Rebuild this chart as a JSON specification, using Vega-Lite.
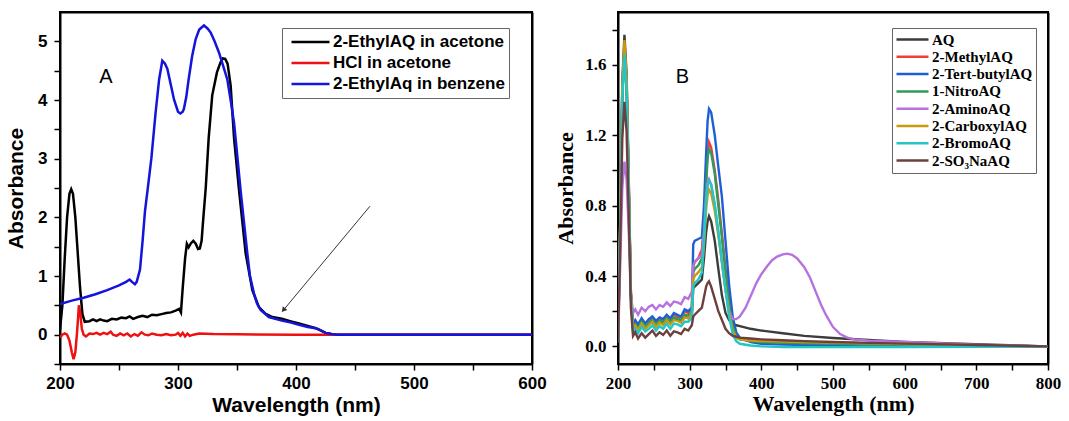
{
"$schema": "https://vega.github.io/schema/vega-lite/v6.json",
"background": "white",
"padding": {"left": 4, "top": 11, "right": 0, "bottom": 0},
"bounds": "flush",
"spacing": 86,
"config": {"view": {"stroke": "black", "strokeWidth": 2}, "axis": {"grid": false}},
"resolve": {"scale": {"color": "independent", "x": "independent", "y": "independent"}, "legend": {"color": "independent"}},
"datasets": {
"a": [
{"s":"2-EthylAQ in acetone","x":200,"y":0.08},{"s":"2-EthylAQ in acetone","x":202,"y":0.5},{"s":"2-EthylAQ in acetone","x":204,"y":1.3},{"s":"2-EthylAQ in acetone","x":206,"y":2.0},{"s":"2-EthylAQ in acetone","x":208,"y":2.4},{"s":"2-EthylAQ in acetone","x":209.5,"y":2.48},{"s":"2-EthylAQ in acetone","x":211,"y":2.4},{"s":"2-EthylAQ in acetone","x":213,"y":2.0},{"s":"2-EthylAQ in acetone","x":215,"y":1.4},{"s":"2-EthylAQ in acetone","x":217,"y":0.8},{"s":"2-EthylAQ in acetone","x":219,"y":0.35},{"s":"2-EthylAQ in acetone","x":221,"y":0.22},{"s":"2-EthylAQ in acetone","x":225,"y":0.23},{"s":"2-EthylAQ in acetone","x":228,"y":0.26},{"s":"2-EthylAQ in acetone","x":231,"y":0.23},{"s":"2-EthylAQ in acetone","x":234,"y":0.26},{"s":"2-EthylAQ in acetone","x":237,"y":0.24},{"s":"2-EthylAQ in acetone","x":240,"y":0.23},{"s":"2-EthylAQ in acetone","x":244,"y":0.27},{"s":"2-EthylAQ in acetone","x":248,"y":0.26},{"s":"2-EthylAQ in acetone","x":252,"y":0.29},{"s":"2-EthylAQ in acetone","x":256,"y":0.28},{"s":"2-EthylAQ in acetone","x":259,"y":0.31},{"s":"2-EthylAQ in acetone","x":262,"y":0.27},{"s":"2-EthylAQ in acetone","x":266,"y":0.3},{"s":"2-EthylAQ in acetone","x":270,"y":0.32},{"s":"2-EthylAQ in acetone","x":274,"y":0.3},{"s":"2-EthylAQ in acetone","x":278,"y":0.34},{"s":"2-EthylAQ in acetone","x":282,"y":0.33},{"s":"2-EthylAQ in acetone","x":286,"y":0.35},{"s":"2-EthylAQ in acetone","x":290,"y":0.37},{"s":"2-EthylAQ in acetone","x":294,"y":0.38},{"s":"2-EthylAQ in acetone","x":298,"y":0.41},{"s":"2-EthylAQ in acetone","x":301,"y":0.44},{"s":"2-EthylAQ in acetone","x":302.5,"y":0.38},{"s":"2-EthylAQ in acetone","x":304,"y":0.8},{"s":"2-EthylAQ in acetone","x":306,"y":1.3},{"s":"2-EthylAQ in acetone","x":307.5,"y":1.55},{"s":"2-EthylAQ in acetone","x":309,"y":1.49},{"s":"2-EthylAQ in acetone","x":311,"y":1.56},{"s":"2-EthylAQ in acetone","x":313,"y":1.6},{"s":"2-EthylAQ in acetone","x":315,"y":1.55},{"s":"2-EthylAQ in acetone","x":317,"y":1.46},{"s":"2-EthylAQ in acetone","x":318.5,"y":1.47},{"s":"2-EthylAQ in acetone","x":320,"y":1.6},{"s":"2-EthylAQ in acetone","x":321.5,"y":2.0},{"s":"2-EthylAQ in acetone","x":323.5,"y":2.5},{"s":"2-EthylAQ in acetone","x":326,"y":3.35},{"s":"2-EthylAQ in acetone","x":329,"y":4.08},{"s":"2-EthylAQ in acetone","x":333,"y":4.47},{"s":"2-EthylAQ in acetone","x":336,"y":4.64},{"s":"2-EthylAQ in acetone","x":338,"y":4.71},{"s":"2-EthylAQ in acetone","x":340,"y":4.7},{"s":"2-EthylAQ in acetone","x":342,"y":4.62},{"s":"2-EthylAQ in acetone","x":344.6,"y":4.25},{"s":"2-EthylAQ in acetone","x":347.5,"y":3.35},{"s":"2-EthylAQ in acetone","x":351.7,"y":2.47},{"s":"2-EthylAQ in acetone","x":357.3,"y":1.39},{"s":"2-EthylAQ in acetone","x":363,"y":0.76},{"s":"2-EthylAQ in acetone","x":368.6,"y":0.47},{"s":"2-EthylAQ in acetone","x":374,"y":0.36},{"s":"2-EthylAQ in acetone","x":380,"y":0.3},{"s":"2-EthylAQ in acetone","x":388,"y":0.27},{"s":"2-EthylAQ in acetone","x":395,"y":0.23},{"s":"2-EthylAQ in acetone","x":402.5,"y":0.19},{"s":"2-EthylAQ in acetone","x":410,"y":0.15},{"s":"2-EthylAQ in acetone","x":416.7,"y":0.11},{"s":"2-EthylAQ in acetone","x":420,"y":0.08},{"s":"2-EthylAQ in acetone","x":425,"y":0.03},{"s":"2-EthylAQ in acetone","x":430,"y":0.01},{"s":"2-EthylAQ in acetone","x":435,"y":0},{"s":"2-EthylAQ in acetone","x":500,"y":0},{"s":"2-EthylAQ in acetone","x":600,"y":0},
{"s":"HCl in acetone","x":200,"y":-0.05},{"s":"HCl in acetone","x":202,"y":0.0},{"s":"HCl in acetone","x":204,"y":0.02},{"s":"HCl in acetone","x":206,"y":0.0},{"s":"HCl in acetone","x":208,"y":-0.1},{"s":"HCl in acetone","x":210,"y":-0.3},{"s":"HCl in acetone","x":211.5,"y":-0.42},{"s":"HCl in acetone","x":213,"y":-0.3},{"s":"HCl in acetone","x":214.5,"y":0.05},{"s":"HCl in acetone","x":216,"y":0.5},{"s":"HCl in acetone","x":217,"y":0.4},{"s":"HCl in acetone","x":218.5,"y":0.1},{"s":"HCl in acetone","x":220,"y":0.0},{"s":"HCl in acetone","x":222,"y":-0.03},{"s":"HCl in acetone","x":225,"y":0.02},{"s":"HCl in acetone","x":228,"y":0.01},{"s":"HCl in acetone","x":231,"y":0.03},{"s":"HCl in acetone","x":234,"y":0.0},{"s":"HCl in acetone","x":237,"y":0.03},{"s":"HCl in acetone","x":240,"y":0.01},{"s":"HCl in acetone","x":243,"y":0.05},{"s":"HCl in acetone","x":245,"y":0.0},{"s":"HCl in acetone","x":248,"y":-0.02},{"s":"HCl in acetone","x":251,"y":0.02},{"s":"HCl in acetone","x":254,"y":-0.01},{"s":"HCl in acetone","x":257,"y":0.02},{"s":"HCl in acetone","x":260,"y":-0.03},{"s":"HCl in acetone","x":263,"y":0.01},{"s":"HCl in acetone","x":266,"y":-0.02},{"s":"HCl in acetone","x":269,"y":0.04},{"s":"HCl in acetone","x":272,"y":0.0},{"s":"HCl in acetone","x":275,"y":-0.01},{"s":"HCl in acetone","x":278,"y":0.02},{"s":"HCl in acetone","x":282,"y":0.0},{"s":"HCl in acetone","x":286,"y":-0.01},{"s":"HCl in acetone","x":290,"y":0.01},{"s":"HCl in acetone","x":294,"y":-0.01},{"s":"HCl in acetone","x":298,"y":0.0},{"s":"HCl in acetone","x":300,"y":0.03},{"s":"HCl in acetone","x":302,"y":-0.02},{"s":"HCl in acetone","x":304,"y":0.03},{"s":"HCl in acetone","x":306,"y":-0.03},{"s":"HCl in acetone","x":308,"y":0.02},{"s":"HCl in acetone","x":310,"y":-0.02},{"s":"HCl in acetone","x":313,"y":0.0},{"s":"HCl in acetone","x":318,"y":0.02},{"s":"HCl in acetone","x":330,"y":0.01},{"s":"HCl in acetone","x":350,"y":0.005},{"s":"HCl in acetone","x":400,"y":0.0},{"s":"HCl in acetone","x":600,"y":0.0},
{"s":"2-EthylAq in benzene","x":200,"y":0.52},{"s":"2-EthylAq in benzene","x":210,"y":0.58},{"s":"2-EthylAq in benzene","x":220,"y":0.63},{"s":"2-EthylAq in benzene","x":230,"y":0.69},{"s":"2-EthylAq in benzene","x":240,"y":0.76},{"s":"2-EthylAq in benzene","x":250,"y":0.84},{"s":"2-EthylAq in benzene","x":256,"y":0.9},{"s":"2-EthylAq in benzene","x":259,"y":0.94},{"s":"2-EthylAq in benzene","x":261,"y":0.9},{"s":"2-EthylAq in benzene","x":263.5,"y":0.86},{"s":"2-EthylAq in benzene","x":265,"y":0.9},{"s":"2-EthylAq in benzene","x":267.8,"y":1.11},{"s":"2-EthylAq in benzene","x":270,"y":1.6},{"s":"2-EthylAq in benzene","x":272,"y":2.1},{"s":"2-EthylAq in benzene","x":274,"y":2.43},{"s":"2-EthylAq in benzene","x":277.4,"y":3.0},{"s":"2-EthylAq in benzene","x":281,"y":3.78},{"s":"2-EthylAq in benzene","x":284,"y":4.35},{"s":"2-EthylAq in benzene","x":286.7,"y":4.67},{"s":"2-EthylAq in benzene","x":289,"y":4.62},{"s":"2-EthylAq in benzene","x":291,"y":4.53},{"s":"2-EthylAq in benzene","x":294,"y":4.25},{"s":"2-EthylAq in benzene","x":296.6,"y":4.01},{"s":"2-EthylAq in benzene","x":300,"y":3.8},{"s":"2-EthylAq in benzene","x":302,"y":3.77},{"s":"2-EthylAq in benzene","x":304,"y":3.8},{"s":"2-EthylAq in benzene","x":305,"y":3.85},{"s":"2-EthylAq in benzene","x":307,"y":4.05},{"s":"2-EthylAq in benzene","x":309,"y":4.35},{"s":"2-EthylAq in benzene","x":312,"y":4.75},{"s":"2-EthylAq in benzene","x":315,"y":5.04},{"s":"2-EthylAq in benzene","x":318,"y":5.2},{"s":"2-EthylAq in benzene","x":322,"y":5.27},{"s":"2-EthylAq in benzene","x":325,"y":5.22},{"s":"2-EthylAq in benzene","x":327.7,"y":5.15},{"s":"2-EthylAq in benzene","x":331,"y":5.0},{"s":"2-EthylAq in benzene","x":334.7,"y":4.81},{"s":"2-EthylAq in benzene","x":338,"y":4.6},{"s":"2-EthylAq in benzene","x":341.8,"y":4.35},{"s":"2-EthylAq in benzene","x":345,"y":3.95},{"s":"2-EthylAq in benzene","x":347.5,"y":3.61},{"s":"2-EthylAq in benzene","x":350,"y":3.1},{"s":"2-EthylAq in benzene","x":353,"y":2.47},{"s":"2-EthylAq in benzene","x":356,"y":1.9},{"s":"2-EthylAq in benzene","x":358.7,"y":1.39},{"s":"2-EthylAq in benzene","x":361,"y":1.0},{"s":"2-EthylAq in benzene","x":364.4,"y":0.7},{"s":"2-EthylAq in benzene","x":367,"y":0.53},{"s":"2-EthylAq in benzene","x":370,"y":0.42},{"s":"2-EthylAq in benzene","x":377,"y":0.3},{"s":"2-EthylAq in benzene","x":388,"y":0.24},{"s":"2-EthylAq in benzene","x":395,"y":0.21},{"s":"2-EthylAq in benzene","x":402.5,"y":0.17},{"s":"2-EthylAq in benzene","x":410,"y":0.13},{"s":"2-EthylAq in benzene","x":416.7,"y":0.11},{"s":"2-EthylAq in benzene","x":420,"y":0.08},{"s":"2-EthylAq in benzene","x":425,"y":0.03},{"s":"2-EthylAq in benzene","x":430,"y":0.01},{"s":"2-EthylAq in benzene","x":435,"y":0},{"s":"2-EthylAq in benzene","x":500,"y":0},{"s":"2-EthylAq in benzene","x":600,"y":0}
],
"b": [
{"s":"AQ","x":200,"y":0.02},{"s":"AQ","x":203,"y":0.7},{"s":"AQ","x":206,"y":1.5},{"s":"AQ","x":209,"y":1.77},{"s":"AQ","x":212,"y":1.55},{"s":"AQ","x":215,"y":0.95},{"s":"AQ","x":218,"y":0.3},
{"s":"AQ","x":221,"y":0.1},{"s":"AQ","x":224,"y":0.12},{"s":"AQ","x":228,"y":0.1},{"s":"AQ","x":233,"y":0.125},{"s":"AQ","x":238,"y":0.105},{"s":"AQ","x":243,"y":0.13},{"s":"AQ","x":248,"y":0.14},{"s":"AQ","x":253,"y":0.12},{"s":"AQ","x":258,"y":0.14},{"s":"AQ","x":263,"y":0.125},{"s":"AQ","x":268,"y":0.15},{"s":"AQ","x":273,"y":0.13},{"s":"AQ","x":278,"y":0.155},{"s":"AQ","x":283,"y":0.15},{"s":"AQ","x":288,"y":0.14},{"s":"AQ","x":293,"y":0.17},{"s":"AQ","x":298,"y":0.16},{"s":"AQ","x":303,"y":0.18},
{"s":"AQ","x":305,"y":0.33},{"s":"AQ","x":307,"y":0.34},{"s":"AQ","x":312,"y":0.36},{"s":"AQ","x":317,"y":0.38},{"s":"AQ","x":320,"y":0.5},{"s":"AQ","x":323,"y":0.65},{"s":"AQ","x":325,"y":0.71},{"s":"AQ","x":327,"y":0.74},{"s":"AQ","x":330,"y":0.71},{"s":"AQ","x":335,"y":0.6},{"s":"AQ","x":340,"y":0.44},{"s":"AQ","x":345,"y":0.29},{"s":"AQ","x":350,"y":0.19},{"s":"AQ","x":355,"y":0.15},{"s":"AQ","x":360,"y":0.13},{"s":"AQ","x":365,"y":0.12},{"s":"AQ","x":370,"y":0.115},{"s":"AQ","x":385,"y":0.1},{"s":"AQ","x":400,"y":0.09},{"s":"AQ","x":430,"y":0.075},{"s":"AQ","x":460,"y":0.06},{"s":"AQ","x":500,"y":0.048},{"s":"AQ","x":550,"y":0.036},{"s":"AQ","x":600,"y":0.025},{"s":"AQ","x":700,"y":0.012},{"s":"AQ","x":800,"y":0.0},
{"s":"2-MethylAQ","x":200,"y":0.02},{"s":"2-MethylAQ","x":203,"y":0.68},{"s":"2-MethylAQ","x":206,"y":1.46},{"s":"2-MethylAQ","x":209,"y":1.72},{"s":"2-MethylAQ","x":212,"y":1.5},{"s":"2-MethylAQ","x":215,"y":0.92},{"s":"2-MethylAQ","x":218,"y":0.3},
{"s":"2-MethylAQ","x":221,"y":0.12},{"s":"2-MethylAQ","x":224,"y":0.14},{"s":"2-MethylAQ","x":228,"y":0.12},{"s":"2-MethylAQ","x":233,"y":0.15},{"s":"2-MethylAQ","x":238,"y":0.125},{"s":"2-MethylAQ","x":243,"y":0.15},{"s":"2-MethylAQ","x":248,"y":0.16},{"s":"2-MethylAQ","x":253,"y":0.14},{"s":"2-MethylAQ","x":258,"y":0.16},{"s":"2-MethylAQ","x":263,"y":0.15},{"s":"2-MethylAQ","x":268,"y":0.175},{"s":"2-MethylAQ","x":273,"y":0.15},{"s":"2-MethylAQ","x":278,"y":0.18},{"s":"2-MethylAQ","x":283,"y":0.17},{"s":"2-MethylAQ","x":288,"y":0.165},{"s":"2-MethylAQ","x":293,"y":0.2},{"s":"2-MethylAQ","x":298,"y":0.19},{"s":"2-MethylAQ","x":303,"y":0.21},
{"s":"2-MethylAQ","x":305,"y":0.45},{"s":"2-MethylAQ","x":307,"y":0.48},{"s":"2-MethylAQ","x":312,"y":0.5},{"s":"2-MethylAQ","x":317,"y":0.55},{"s":"2-MethylAQ","x":320,"y":0.7},{"s":"2-MethylAQ","x":323,"y":0.95},{"s":"2-MethylAQ","x":325,"y":1.1},{"s":"2-MethylAQ","x":327,"y":1.16},{"s":"2-MethylAQ","x":330,"y":1.13},{"s":"2-MethylAQ","x":335,"y":1.0},{"s":"2-MethylAQ","x":340,"y":0.83},{"s":"2-MethylAQ","x":345,"y":0.64},{"s":"2-MethylAQ","x":350,"y":0.44},{"s":"2-MethylAQ","x":355,"y":0.26},{"s":"2-MethylAQ","x":360,"y":0.12},{"s":"2-MethylAQ","x":365,"y":0.06},{"s":"2-MethylAQ","x":370,"y":0.045},{"s":"2-MethylAQ","x":385,"y":0.035},{"s":"2-MethylAQ","x":400,"y":0.03},{"s":"2-MethylAQ","x":430,"y":0.025},{"s":"2-MethylAQ","x":460,"y":0.022},{"s":"2-MethylAQ","x":500,"y":0.02},{"s":"2-MethylAQ","x":550,"y":0.017},{"s":"2-MethylAQ","x":600,"y":0.014},{"s":"2-MethylAQ","x":700,"y":0.007},{"s":"2-MethylAQ","x":800,"y":0.0},
{"s":"2-Tert-butylAQ","x":200,"y":0.02},{"s":"2-Tert-butylAQ","x":203,"y":0.67},{"s":"2-Tert-butylAQ","x":206,"y":1.44},{"s":"2-Tert-butylAQ","x":209,"y":1.7},{"s":"2-Tert-butylAQ","x":212,"y":1.48},{"s":"2-Tert-butylAQ","x":215,"y":0.9},{"s":"2-Tert-butylAQ","x":218,"y":0.3},
{"s":"2-Tert-butylAQ","x":221,"y":0.13},{"s":"2-Tert-butylAQ","x":224,"y":0.15},{"s":"2-Tert-butylAQ","x":228,"y":0.125},{"s":"2-Tert-butylAQ","x":233,"y":0.16},{"s":"2-Tert-butylAQ","x":238,"y":0.13},{"s":"2-Tert-butylAQ","x":243,"y":0.155},{"s":"2-Tert-butylAQ","x":248,"y":0.17},{"s":"2-Tert-butylAQ","x":253,"y":0.145},{"s":"2-Tert-butylAQ","x":258,"y":0.165},{"s":"2-Tert-butylAQ","x":263,"y":0.155},{"s":"2-Tert-butylAQ","x":268,"y":0.18},{"s":"2-Tert-butylAQ","x":273,"y":0.16},{"s":"2-Tert-butylAQ","x":278,"y":0.19},{"s":"2-Tert-butylAQ","x":283,"y":0.18},{"s":"2-Tert-butylAQ","x":288,"y":0.17},{"s":"2-Tert-butylAQ","x":293,"y":0.21},{"s":"2-Tert-butylAQ","x":298,"y":0.2},{"s":"2-Tert-butylAQ","x":303,"y":0.22},
{"s":"2-Tert-butylAQ","x":305,"y":0.58},{"s":"2-Tert-butylAQ","x":307,"y":0.6},{"s":"2-Tert-butylAQ","x":312,"y":0.61},{"s":"2-Tert-butylAQ","x":317,"y":0.62},{"s":"2-Tert-butylAQ","x":320,"y":0.8},{"s":"2-Tert-butylAQ","x":323,"y":1.1},{"s":"2-Tert-butylAQ","x":325,"y":1.28},{"s":"2-Tert-butylAQ","x":327,"y":1.35},{"s":"2-Tert-butylAQ","x":330,"y":1.33},{"s":"2-Tert-butylAQ","x":335,"y":1.2},{"s":"2-Tert-butylAQ","x":340,"y":1.02},{"s":"2-Tert-butylAQ","x":345,"y":0.85},{"s":"2-Tert-butylAQ","x":350,"y":0.6},{"s":"2-Tert-butylAQ","x":355,"y":0.35},{"s":"2-Tert-butylAQ","x":360,"y":0.17},{"s":"2-Tert-butylAQ","x":365,"y":0.08},{"s":"2-Tert-butylAQ","x":370,"y":0.05},{"s":"2-Tert-butylAQ","x":385,"y":0.025},{"s":"2-Tert-butylAQ","x":400,"y":0.015},{"s":"2-Tert-butylAQ","x":430,"y":0.01},{"s":"2-Tert-butylAQ","x":460,"y":0.008},{"s":"2-Tert-butylAQ","x":500,"y":0.006},{"s":"2-Tert-butylAQ","x":550,"y":0.005},{"s":"2-Tert-butylAQ","x":600,"y":0.004},{"s":"2-Tert-butylAQ","x":700,"y":0.002},{"s":"2-Tert-butylAQ","x":800,"y":0.0},
{"s":"1-NitroAQ","x":200,"y":0.02},{"s":"1-NitroAQ","x":203,"y":0.65},{"s":"1-NitroAQ","x":206,"y":1.41},{"s":"1-NitroAQ","x":209,"y":1.66},{"s":"1-NitroAQ","x":212,"y":1.45},{"s":"1-NitroAQ","x":215,"y":0.88},{"s":"1-NitroAQ","x":218,"y":0.28},
{"s":"1-NitroAQ","x":221,"y":0.11},{"s":"1-NitroAQ","x":224,"y":0.125},{"s":"1-NitroAQ","x":228,"y":0.105},{"s":"1-NitroAQ","x":233,"y":0.14},{"s":"1-NitroAQ","x":238,"y":0.115},{"s":"1-NitroAQ","x":243,"y":0.135},{"s":"1-NitroAQ","x":248,"y":0.15},{"s":"1-NitroAQ","x":253,"y":0.125},{"s":"1-NitroAQ","x":258,"y":0.145},{"s":"1-NitroAQ","x":263,"y":0.14},{"s":"1-NitroAQ","x":268,"y":0.16},{"s":"1-NitroAQ","x":273,"y":0.14},{"s":"1-NitroAQ","x":278,"y":0.165},{"s":"1-NitroAQ","x":283,"y":0.16},{"s":"1-NitroAQ","x":288,"y":0.15},{"s":"1-NitroAQ","x":293,"y":0.18},{"s":"1-NitroAQ","x":298,"y":0.175},{"s":"1-NitroAQ","x":303,"y":0.19},
{"s":"1-NitroAQ","x":305,"y":0.42},{"s":"1-NitroAQ","x":307,"y":0.44},{"s":"1-NitroAQ","x":312,"y":0.46},{"s":"1-NitroAQ","x":317,"y":0.5},{"s":"1-NitroAQ","x":320,"y":0.66},{"s":"1-NitroAQ","x":323,"y":0.92},{"s":"1-NitroAQ","x":325,"y":1.07},{"s":"1-NitroAQ","x":327,"y":1.12},{"s":"1-NitroAQ","x":330,"y":1.1},{"s":"1-NitroAQ","x":335,"y":0.98},{"s":"1-NitroAQ","x":340,"y":0.8},{"s":"1-NitroAQ","x":345,"y":0.62},{"s":"1-NitroAQ","x":350,"y":0.42},{"s":"1-NitroAQ","x":355,"y":0.24},{"s":"1-NitroAQ","x":360,"y":0.11},{"s":"1-NitroAQ","x":365,"y":0.055},{"s":"1-NitroAQ","x":370,"y":0.04},{"s":"1-NitroAQ","x":385,"y":0.03},{"s":"1-NitroAQ","x":400,"y":0.025},{"s":"1-NitroAQ","x":430,"y":0.02},{"s":"1-NitroAQ","x":460,"y":0.017},{"s":"1-NitroAQ","x":500,"y":0.015},{"s":"1-NitroAQ","x":550,"y":0.012},{"s":"1-NitroAQ","x":600,"y":0.01},{"s":"1-NitroAQ","x":700,"y":0.005},{"s":"1-NitroAQ","x":800,"y":0.0},
{"s":"2-AminoAQ","x":200,"y":0.02},{"s":"2-AminoAQ","x":203,"y":0.45},{"s":"2-AminoAQ","x":206,"y":0.9},{"s":"2-AminoAQ","x":209,"y":1.05},{"s":"2-AminoAQ","x":212,"y":0.95},{"s":"2-AminoAQ","x":215,"y":0.65},{"s":"2-AminoAQ","x":218,"y":0.3},
{"s":"2-AminoAQ","x":221,"y":0.19},{"s":"2-AminoAQ","x":224,"y":0.21},{"s":"2-AminoAQ","x":228,"y":0.18},{"s":"2-AminoAQ","x":233,"y":0.22},{"s":"2-AminoAQ","x":238,"y":0.2},{"s":"2-AminoAQ","x":243,"y":0.225},{"s":"2-AminoAQ","x":248,"y":0.235},{"s":"2-AminoAQ","x":253,"y":0.21},{"s":"2-AminoAQ","x":258,"y":0.235},{"s":"2-AminoAQ","x":263,"y":0.225},{"s":"2-AminoAQ","x":268,"y":0.25},{"s":"2-AminoAQ","x":273,"y":0.23},{"s":"2-AminoAQ","x":278,"y":0.255},{"s":"2-AminoAQ","x":283,"y":0.25},{"s":"2-AminoAQ","x":288,"y":0.24},{"s":"2-AminoAQ","x":293,"y":0.28},{"s":"2-AminoAQ","x":298,"y":0.27},{"s":"2-AminoAQ","x":303,"y":0.31},
{"s":"2-AminoAQ","x":305,"y":0.46},{"s":"2-AminoAQ","x":307,"y":0.48},{"s":"2-AminoAQ","x":312,"y":0.5},{"s":"2-AminoAQ","x":317,"y":0.52},{"s":"2-AminoAQ","x":320,"y":0.65},{"s":"2-AminoAQ","x":323,"y":0.85},{"s":"2-AminoAQ","x":325,"y":0.93},{"s":"2-AminoAQ","x":327,"y":0.95},{"s":"2-AminoAQ","x":330,"y":0.92},{"s":"2-AminoAQ","x":335,"y":0.8},{"s":"2-AminoAQ","x":340,"y":0.65},{"s":"2-AminoAQ","x":345,"y":0.48},{"s":"2-AminoAQ","x":350,"y":0.32},{"s":"2-AminoAQ","x":355,"y":0.2},{"s":"2-AminoAQ","x":360,"y":0.155},{"s":"2-AminoAQ","x":365,"y":0.155},{"s":"2-AminoAQ","x":370,"y":0.17},{"s":"2-AminoAQ","x":378,"y":0.22},{"s":"2-AminoAQ","x":385,"y":0.285},{"s":"2-AminoAQ","x":393,"y":0.36},{"s":"2-AminoAQ","x":400,"y":0.41},{"s":"2-AminoAQ","x":408,"y":0.455},{"s":"2-AminoAQ","x":415,"y":0.49},{"s":"2-AminoAQ","x":422,"y":0.51},{"s":"2-AminoAQ","x":430,"y":0.523},{"s":"2-AminoAQ","x":436,"y":0.527},{"s":"2-AminoAQ","x":443,"y":0.52},{"s":"2-AminoAQ","x":450,"y":0.5},{"s":"2-AminoAQ","x":460,"y":0.45},{"s":"2-AminoAQ","x":468,"y":0.39},{"s":"2-AminoAQ","x":475,"y":0.32},{"s":"2-AminoAQ","x":483,"y":0.24},{"s":"2-AminoAQ","x":490,"y":0.18},{"s":"2-AminoAQ","x":500,"y":0.11},{"s":"2-AminoAQ","x":510,"y":0.07},{"s":"2-AminoAQ","x":520,"y":0.05},{"s":"2-AminoAQ","x":530,"y":0.04},{"s":"2-AminoAQ","x":550,"y":0.033},{"s":"2-AminoAQ","x":600,"y":0.025},{"s":"2-AminoAQ","x":700,"y":0.01},{"s":"2-AminoAQ","x":800,"y":0.0},
{"s":"2-CarboxylAQ","x":200,"y":0.02},{"s":"2-CarboxylAQ","x":203,"y":0.69},{"s":"2-CarboxylAQ","x":206,"y":1.48},{"s":"2-CarboxylAQ","x":209,"y":1.74},{"s":"2-CarboxylAQ","x":212,"y":1.52},{"s":"2-CarboxylAQ","x":215,"y":0.93},{"s":"2-CarboxylAQ","x":218,"y":0.3},
{"s":"2-CarboxylAQ","x":221,"y":0.1},{"s":"2-CarboxylAQ","x":224,"y":0.12},{"s":"2-CarboxylAQ","x":228,"y":0.09},{"s":"2-CarboxylAQ","x":233,"y":0.13},{"s":"2-CarboxylAQ","x":238,"y":0.1},{"s":"2-CarboxylAQ","x":243,"y":0.12},{"s":"2-CarboxylAQ","x":248,"y":0.14},{"s":"2-CarboxylAQ","x":253,"y":0.11},{"s":"2-CarboxylAQ","x":258,"y":0.135},{"s":"2-CarboxylAQ","x":263,"y":0.12},{"s":"2-CarboxylAQ","x":268,"y":0.15},{"s":"2-CarboxylAQ","x":273,"y":0.125},{"s":"2-CarboxylAQ","x":278,"y":0.15},{"s":"2-CarboxylAQ","x":283,"y":0.145},{"s":"2-CarboxylAQ","x":288,"y":0.135},{"s":"2-CarboxylAQ","x":293,"y":0.165},{"s":"2-CarboxylAQ","x":298,"y":0.16},{"s":"2-CarboxylAQ","x":303,"y":0.18},
{"s":"2-CarboxylAQ","x":305,"y":0.38},{"s":"2-CarboxylAQ","x":307,"y":0.4},{"s":"2-CarboxylAQ","x":312,"y":0.42},{"s":"2-CarboxylAQ","x":317,"y":0.45},{"s":"2-CarboxylAQ","x":320,"y":0.58},{"s":"2-CarboxylAQ","x":323,"y":0.78},{"s":"2-CarboxylAQ","x":325,"y":0.86},{"s":"2-CarboxylAQ","x":327,"y":0.89},{"s":"2-CarboxylAQ","x":330,"y":0.87},{"s":"2-CarboxylAQ","x":335,"y":0.77},{"s":"2-CarboxylAQ","x":340,"y":0.63},{"s":"2-CarboxylAQ","x":345,"y":0.48},{"s":"2-CarboxylAQ","x":350,"y":0.33},{"s":"2-CarboxylAQ","x":355,"y":0.19},{"s":"2-CarboxylAQ","x":360,"y":0.09},{"s":"2-CarboxylAQ","x":365,"y":0.05},{"s":"2-CarboxylAQ","x":370,"y":0.04},{"s":"2-CarboxylAQ","x":385,"y":0.033},{"s":"2-CarboxylAQ","x":400,"y":0.03},{"s":"2-CarboxylAQ","x":430,"y":0.027},{"s":"2-CarboxylAQ","x":460,"y":0.025},{"s":"2-CarboxylAQ","x":500,"y":0.022},{"s":"2-CarboxylAQ","x":550,"y":0.018},{"s":"2-CarboxylAQ","x":600,"y":0.014},{"s":"2-CarboxylAQ","x":700,"y":0.007},{"s":"2-CarboxylAQ","x":800,"y":0.0},
{"s":"2-BromoAQ","x":200,"y":0.02},{"s":"2-BromoAQ","x":203,"y":0.65},{"s":"2-BromoAQ","x":206,"y":1.41},{"s":"2-BromoAQ","x":209,"y":1.66},{"s":"2-BromoAQ","x":212,"y":1.45},{"s":"2-BromoAQ","x":215,"y":0.88},{"s":"2-BromoAQ","x":218,"y":0.27},
{"s":"2-BromoAQ","x":221,"y":0.08},{"s":"2-BromoAQ","x":224,"y":0.1},{"s":"2-BromoAQ","x":228,"y":0.075},{"s":"2-BromoAQ","x":233,"y":0.11},{"s":"2-BromoAQ","x":238,"y":0.085},{"s":"2-BromoAQ","x":243,"y":0.1},{"s":"2-BromoAQ","x":248,"y":0.12},{"s":"2-BromoAQ","x":253,"y":0.09},{"s":"2-BromoAQ","x":258,"y":0.115},{"s":"2-BromoAQ","x":263,"y":0.1},{"s":"2-BromoAQ","x":268,"y":0.13},{"s":"2-BromoAQ","x":273,"y":0.1},{"s":"2-BromoAQ","x":278,"y":0.13},{"s":"2-BromoAQ","x":283,"y":0.125},{"s":"2-BromoAQ","x":288,"y":0.115},{"s":"2-BromoAQ","x":293,"y":0.14},{"s":"2-BromoAQ","x":298,"y":0.14},{"s":"2-BromoAQ","x":303,"y":0.16},
{"s":"2-BromoAQ","x":305,"y":0.34},{"s":"2-BromoAQ","x":307,"y":0.36},{"s":"2-BromoAQ","x":312,"y":0.38},{"s":"2-BromoAQ","x":317,"y":0.42},{"s":"2-BromoAQ","x":320,"y":0.6},{"s":"2-BromoAQ","x":323,"y":0.83},{"s":"2-BromoAQ","x":325,"y":0.91},{"s":"2-BromoAQ","x":327,"y":0.94},{"s":"2-BromoAQ","x":330,"y":0.92},{"s":"2-BromoAQ","x":335,"y":0.81},{"s":"2-BromoAQ","x":340,"y":0.65},{"s":"2-BromoAQ","x":345,"y":0.48},{"s":"2-BromoAQ","x":350,"y":0.32},{"s":"2-BromoAQ","x":355,"y":0.17},{"s":"2-BromoAQ","x":360,"y":0.07},{"s":"2-BromoAQ","x":365,"y":0.03},{"s":"2-BromoAQ","x":370,"y":0.015},{"s":"2-BromoAQ","x":385,"y":0.005},{"s":"2-BromoAQ","x":400,"y":0.0},{"s":"2-BromoAQ","x":430,"y":-0.003},{"s":"2-BromoAQ","x":460,"y":-0.004},{"s":"2-BromoAQ","x":500,"y":-0.004},{"s":"2-BromoAQ","x":550,"y":-0.003},{"s":"2-BromoAQ","x":600,"y":-0.003},{"s":"2-BromoAQ","x":700,"y":-0.002},{"s":"2-BromoAQ","x":800,"y":0.0},
{"s":"2-SO₃NaAQ","x":200,"y":0.02},{"s":"2-SO₃NaAQ","x":203,"y":0.55},{"s":"2-SO₃NaAQ","x":206,"y":1.18},{"s":"2-SO₃NaAQ","x":209,"y":1.39},{"s":"2-SO₃NaAQ","x":212,"y":1.22},{"s":"2-SO₃NaAQ","x":215,"y":0.75},{"s":"2-SO₃NaAQ","x":218,"y":0.22},
{"s":"2-SO₃NaAQ","x":221,"y":0.06},{"s":"2-SO₃NaAQ","x":224,"y":0.08},{"s":"2-SO₃NaAQ","x":228,"y":0.045},{"s":"2-SO₃NaAQ","x":233,"y":0.075},{"s":"2-SO₃NaAQ","x":238,"y":0.05},{"s":"2-SO₃NaAQ","x":243,"y":0.07},{"s":"2-SO₃NaAQ","x":248,"y":0.09},{"s":"2-SO₃NaAQ","x":253,"y":0.06},{"s":"2-SO₃NaAQ","x":258,"y":0.08},{"s":"2-SO₃NaAQ","x":263,"y":0.065},{"s":"2-SO₃NaAQ","x":268,"y":0.09},{"s":"2-SO₃NaAQ","x":273,"y":0.06},{"s":"2-SO₃NaAQ","x":278,"y":0.085},{"s":"2-SO₃NaAQ","x":283,"y":0.08},{"s":"2-SO₃NaAQ","x":288,"y":0.07},{"s":"2-SO₃NaAQ","x":293,"y":0.1},{"s":"2-SO₃NaAQ","x":298,"y":0.09},{"s":"2-SO₃NaAQ","x":303,"y":0.12},
{"s":"2-SO₃NaAQ","x":305,"y":0.17},{"s":"2-SO₃NaAQ","x":307,"y":0.18},{"s":"2-SO₃NaAQ","x":312,"y":0.2},{"s":"2-SO₃NaAQ","x":317,"y":0.22},{"s":"2-SO₃NaAQ","x":320,"y":0.28},{"s":"2-SO₃NaAQ","x":323,"y":0.34},{"s":"2-SO₃NaAQ","x":325,"y":0.36},{"s":"2-SO₃NaAQ","x":327,"y":0.37},{"s":"2-SO₃NaAQ","x":330,"y":0.34},{"s":"2-SO₃NaAQ","x":335,"y":0.27},{"s":"2-SO₃NaAQ","x":340,"y":0.2},{"s":"2-SO₃NaAQ","x":345,"y":0.15},{"s":"2-SO₃NaAQ","x":350,"y":0.1},{"s":"2-SO₃NaAQ","x":355,"y":0.075},{"s":"2-SO₃NaAQ","x":360,"y":0.06},{"s":"2-SO₃NaAQ","x":365,"y":0.055},{"s":"2-SO₃NaAQ","x":370,"y":0.05},{"s":"2-SO₃NaAQ","x":385,"y":0.045},{"s":"2-SO₃NaAQ","x":400,"y":0.04},{"s":"2-SO₃NaAQ","x":430,"y":0.035},{"s":"2-SO₃NaAQ","x":460,"y":0.03},{"s":"2-SO₃NaAQ","x":500,"y":0.025},{"s":"2-SO₃NaAQ","x":550,"y":0.02},{"s":"2-SO₃NaAQ","x":600,"y":0.016},{"s":"2-SO₃NaAQ","x":700,"y":0.008},{"s":"2-SO₃NaAQ","x":800,"y":0.0}
],
"arrowA": [{"x1": 462.7, "y1": 2.19, "x2": 389.8, "y2": 0.43}],
"labA": [{"t": "A", "x": 239, "y": 4.4}],
"labB": [{"t": "B", "x": 290, "y": 1.53}]
},
"hconcat": [
{
"width": 472, "height": 352,
"view": {"stroke": "black", "strokeWidth": 2},
"resolve": {"axis": {"x": "independent", "y": "independent"}},
"layer": [
{"data": {"name": "a"}, "mark": {"type": "line", "strokeWidth": 2.5, "clip": true},
"encoding": {
"x": {"field": "x", "type": "quantitative", "scale": {"domain": [200, 600], "nice": false, "zero": false},
"axis": {"orient": "bottom", "values": [200,250,300,350,400,450,500,550,600], "labelExpr": "datum.value % 100 == 0 ? datum.label : ''", "title": "Wavelength (nm)", "titleFont": "Liberation Sans", "titleFontSize": 21, "titleFontWeight": "bold", "titleColor": "black", "titlePadding": 3, "labelFont": "Liberation Sans", "labelFontSize": 17, "labelFontWeight": "bold", "labelColor": "black", "labelPadding": 5, "labelFlush": false, "labelOverlap": false, "tickColor": "black", "tickSize": 6, "tickWidth": 1.5, "domainColor": "black", "domainWidth": 2}},
"y": {"field": "y", "type": "quantitative", "scale": {"domain": [-0.5, 5.5], "nice": false, "zero": false},
"axis": {"orient": "left", "values": [-0.5,0,0.5,1,1.5,2,2.5,3,3.5,4,4.5,5], "labelExpr": "(datum.value == 0 || datum.value == 1 || datum.value == 2 || datum.value == 3 || datum.value == 4 || datum.value == 5) ? toString(datum.value) : ''", "title": "Absorbance", "titleFont": "Liberation Sans", "titleFontSize": 21, "titleFontWeight": "bold", "titleColor": "black", "titlePadding": 11, "labelFont": "Liberation Sans", "labelFontSize": 17, "labelFontWeight": "bold", "labelColor": "black", "labelPadding": 7, "labelOverlap": false, "tickColor": "black", "tickSize": 6, "tickWidth": 1.5, "domainColor": "black", "domainWidth": 2}},
"color": {"field": "s", "type": "nominal",
"scale": {"domain": ["2-EthylAQ in acetone", "HCl in acetone", "2-EthylAq in benzene"], "range": ["#000000", "#ee1111", "#1414dc"]},
"legend": {"title": null, "orient": "none", "legendX": 222, "legendY": 16, "symbolType": "stroke", "symbolSize": 1444, "symbolStrokeWidth": 2.5, "symbolOffset": 4, "labelOffset": 2, "clipHeight": 20, "rowPadding": 1, "padding": 4, "labelFont": "Liberation Sans", "labelFontSize": 17, "labelFontWeight": "bold", "labelColor": "black", "labelLimit": 300, "strokeColor": "#666666", "fillColor": "white"}}
}},
{"data": {"name": "arrowA"}, "mark": {"type": "rule", "stroke": "#333333", "strokeWidth": 1},
"encoding": {"x": {"field": "x1", "type": "quantitative", "axis": null}, "y": {"field": "y1", "type": "quantitative", "axis": null}, "x2": {"field": "x2"}, "y2": {"field": "y2"}}},
{"data": {"name": "arrowA"}, "mark": {"type": "point", "shape": "triangle", "filled": true, "color": "#333333", "size": 35, "angle": 220, "opacity": 1},
"encoding": {"x": {"field": "x2", "type": "quantitative", "axis": null}, "y": {"field": "y2", "type": "quantitative", "axis": null}}},
{"data": {"name": "labA"}, "mark": {"type": "text", "font": "Liberation Sans", "fontSize": 20, "color": "black", "align": "center", "baseline": "middle"},
"encoding": {"x": {"field": "x", "type": "quantitative", "axis": {"orient": "top", "labels": false, "ticks": false, "title": null, "domainColor": "black", "domainWidth": 2}}, "y": {"field": "y", "type": "quantitative", "axis": {"orient": "right", "labels": false, "ticks": false, "title": null, "domainColor": "black", "domainWidth": 2}}, "text": {"field": "t"}}}
]
},
{
"width": 430, "height": 352,
"view": {"stroke": "black", "strokeWidth": 2},
"resolve": {"axis": {"x": "independent", "y": "independent"}},
"layer": [
{"data": {"name": "b"}, "mark": {"type": "line", "strokeWidth": 2.4, "clip": true},
"encoding": {
"x": {"field": "x", "type": "quantitative", "scale": {"domain": [200, 800], "nice": false, "zero": false},
"axis": {"orient": "bottom", "values": [200,250,300,350,400,450,500,550,600,650,700,750,800], "labelExpr": "datum.value % 100 == 0 ? datum.label : ''", "title": "Wavelength (nm)", "titleFont": "Liberation Serif", "titleFontSize": 22, "titleFontWeight": "bold", "titleColor": "black", "titlePadding": 2, "labelFont": "Liberation Serif", "labelFontSize": 17, "labelFontWeight": "bold", "labelColor": "black", "labelPadding": 5, "labelFlush": false, "labelOverlap": false, "tickColor": "black", "tickSize": 6, "tickWidth": 1.5, "domainColor": "black", "domainWidth": 2}},
"y": {"field": "y", "type": "quantitative", "scale": {"domain": [-0.1, 1.9], "nice": false, "zero": false},
"axis": {"orient": "left", "values": [0,0.2,0.4,0.6,0.8,1,1.2,1.4,1.6,1.8], "labelExpr": "round(datum.value * 10) % 4 == 0 ? format(datum.value, '.1f') : ''", "title": "Absorbance", "titleFont": "Liberation Serif", "titleFontSize": 22, "titleFontWeight": "bold", "titleColor": "black", "titlePadding": 7, "labelFont": "Liberation Serif", "labelFontSize": 17, "labelFontWeight": "bold", "labelColor": "black", "labelPadding": 6, "labelOverlap": false, "tickColor": "black", "tickSize": 6, "tickWidth": 1.5, "domainColor": "black", "domainWidth": 2}},
"color": {"field": "s", "type": "nominal",
"scale": {"domain": ["AQ", "2-MethylAQ", "2-Tert-butylAQ", "1-NitroAQ", "2-AminoAQ", "2-CarboxylAQ", "2-BromoAQ", "2-SO₃NaAQ"], "range": ["#3c3c3c", "#f03c3c", "#1f5fd6", "#2f9a5c", "#b673e0", "#c99a0e", "#22c6c6", "#6e3f3f"]},
"legend": {"title": null, "orient": "none", "legendX": 274, "legendY": 16, "symbolType": "stroke", "symbolSize": 1024, "symbolStrokeWidth": 2.5, "symbolOffset": 0, "labelOffset": 2, "clipHeight": 17, "rowPadding": 0.3, "padding": 3, "labelFont": "Liberation Serif", "labelFontSize": 15, "labelFontWeight": "bold", "labelColor": "black", "labelLimit": 300, "strokeColor": "#666666", "fillColor": "white"}}
}},
{"data": {"name": "labB"}, "mark": {"type": "text", "font": "Liberation Sans", "fontSize": 20, "color": "black", "align": "center", "baseline": "middle"},
"encoding": {"x": {"field": "x", "type": "quantitative", "axis": {"orient": "top", "labels": false, "ticks": false, "title": null, "domainColor": "black", "domainWidth": 2}}, "y": {"field": "y", "type": "quantitative", "axis": {"orient": "right", "labels": false, "ticks": false, "title": null, "domainColor": "black", "domainWidth": 2}}, "text": {"field": "t"}}}
]
}
]
}
